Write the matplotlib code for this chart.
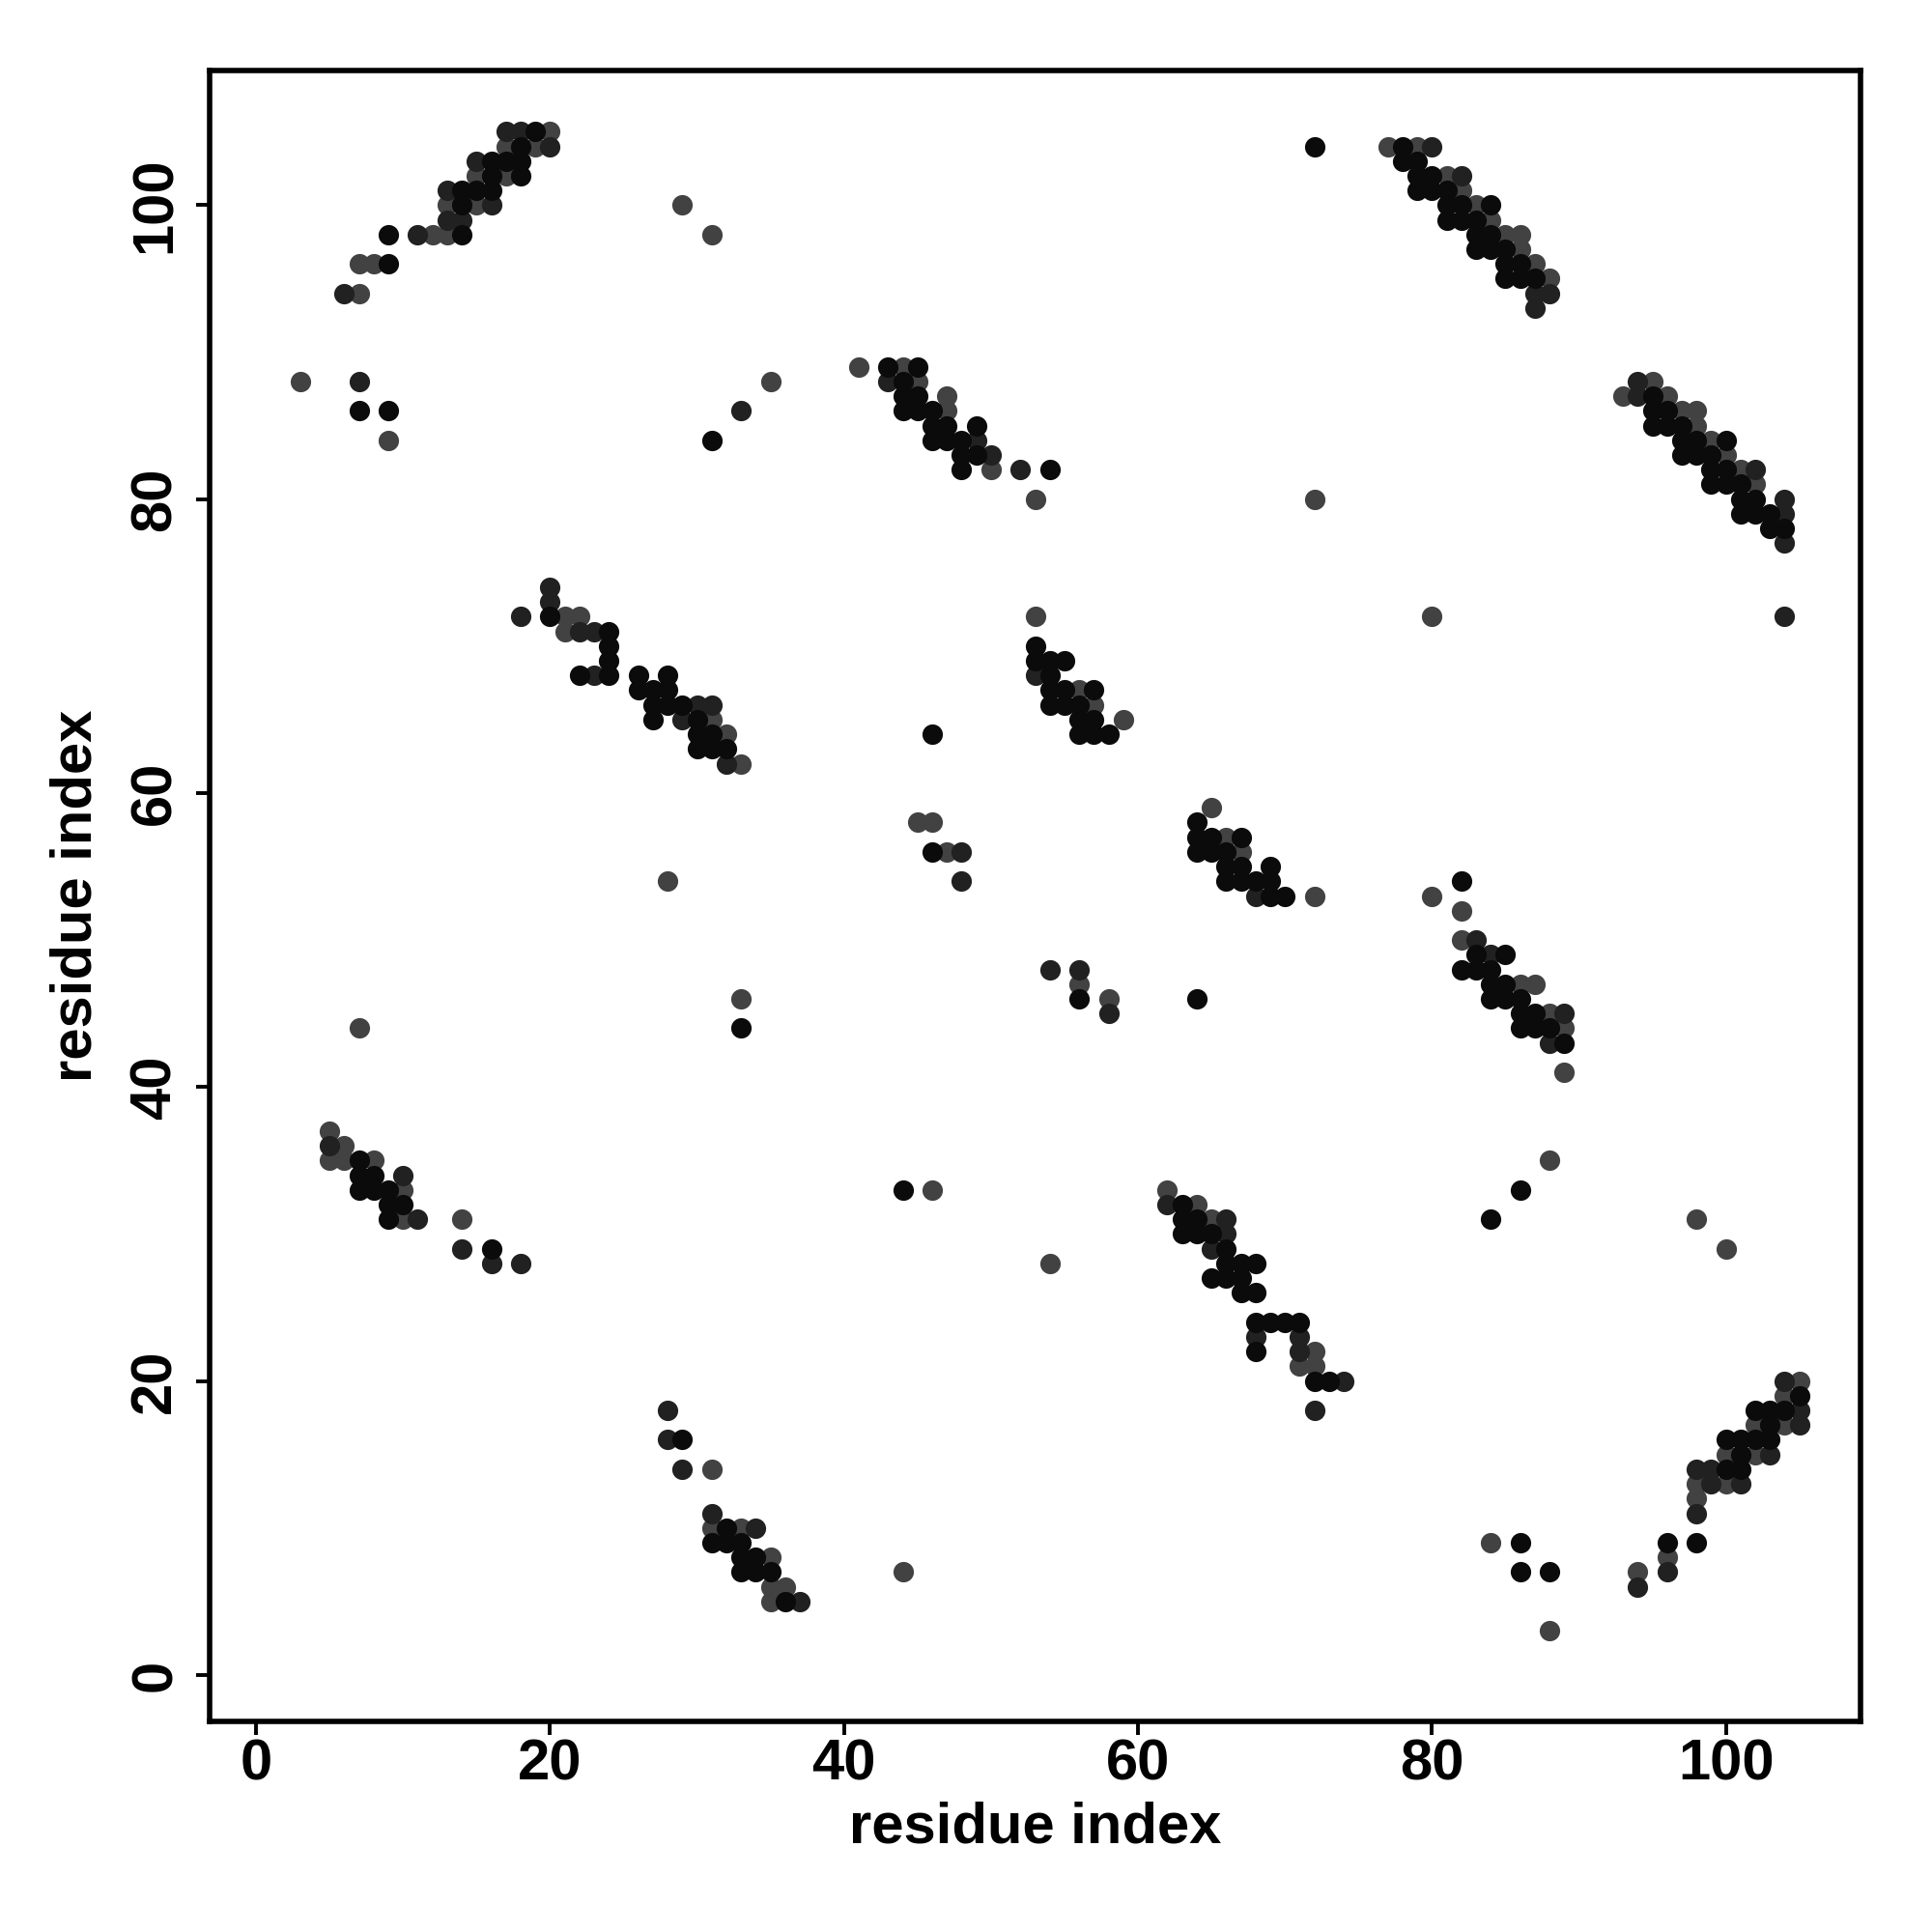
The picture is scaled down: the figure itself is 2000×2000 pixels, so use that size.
import matplotlib
matplotlib.use("Agg")
import matplotlib.pyplot as plt

plt.rcParams['font.family'] = ['Liberation Sans', 'DejaVu Sans']
plt.rcParams['font.weight'] = 'bold'

# contact points, split by shade (black / dark / grey)
black_x = [19, 18, 16, 17, 18, 16, 18, 14, 15, 16, 14, 9, 14, 9, 7, 9,
           43, 45, 44, 44, 45, 44, 45, 46, 46, 47, 49, 46, 47, 48, 48, 49, 48, 54,
           78, 78, 79, 79, 80, 79, 80, 81, 81, 82, 84, 81, 82, 83, 83, 84, 83, 84, 85, 85, 86, 85, 86, 87,
           95, 95, 96, 95, 96, 97, 97, 98, 100, 97, 98, 99, 99, 100, 99, 100, 101, 101, 102, 101, 102, 103, 103, 104,
           20, 24, 24, 24, 22, 24, 26, 28, 26, 27, 28, 27, 28, 29, 27, 30, 30, 31, 30, 31, 32,
           53, 53, 54, 55, 54, 54, 55, 57, 54, 55, 56, 56, 57, 56, 57, 58, 46, 46,
           64, 64, 65, 67, 64, 65, 66, 66, 67, 69, 66, 67, 68, 69, 69, 70,
           82, 83, 85, 82, 83, 84, 84, 85, 84, 85, 86, 86, 87, 86, 87, 88, 89,
           7, 7, 8, 7, 8, 9, 9, 10, 9, 16,
           63, 63, 64, 63, 64, 65, 66, 66, 67, 68, 65, 66, 67, 67, 68, 68, 69, 70, 71, 68, 72, 73,
           29, 32, 31, 32, 33, 33, 34, 33, 34, 35, 36,
           105, 102, 103, 104, 103, 100, 101, 102, 103, 101, 100, 101, 96, 98,
           72, 31, 33, 56, 64, 44, 86, 84, 86, 86, 88]
black_y = [105, 104, 103, 103, 103, 102, 102, 101, 101, 101, 100, 98, 98, 96, 86, 86,
           89, 89, 88, 87, 87, 86, 86, 86, 85, 85, 85, 84, 84, 84, 83, 83, 82, 82,
           104, 103, 103, 102, 102, 101, 101, 101, 100, 100, 100, 99, 99, 99, 98, 98, 97, 97, 97, 96, 96, 95, 95, 95,
           87, 86, 86, 85, 85, 85, 84, 84, 84, 83, 83, 83, 82, 82, 81, 81, 81, 80, 80, 79, 79, 79, 78, 78,
           72, 71, 70, 69, 68, 68, 68, 68, 67, 67, 67, 66, 66, 66, 65, 65, 64, 64, 63, 63, 63,
           70, 69, 69, 69, 68, 67, 67, 67, 66, 66, 66, 65, 65, 64, 64, 64, 64, 56,
           58, 57, 57, 57, 56, 56, 56, 55, 55, 55, 54, 54, 54, 54, 53, 53,
           54, 49, 49, 48, 48, 48, 47, 47, 46, 46, 46, 45, 45, 44, 44, 44, 43,
           35, 34, 34, 33, 33, 33, 32, 32, 31, 29,
           32, 31, 31, 30, 30, 30, 29, 28, 28, 28, 27, 27, 27, 26, 26, 24, 24, 24, 24, 22, 20, 20,
           16, 10, 9, 9, 9, 8, 8, 7, 7, 7, 5,
           19, 18, 18, 18, 17, 16, 16, 16, 16, 15, 14, 14, 9, 9,
           104, 84, 44, 46, 46, 33, 33, 31, 9, 7, 7]

dark_x = [17, 18, 20, 15, 13, 16, 13, 14, 11, 6, 7,
          43, 49, 50, 52,
          80, 82, 87, 88, 87,
          94, 94, 102, 104, 104, 104, 104,
          20, 20, 18, 22, 23, 23, 30, 31, 29, 32,
          53, 48, 48,
          68,
          83, 84, 89, 88,
          5, 10, 11, 14, 16, 18,
          62, 66, 66, 65, 68, 71, 71, 74, 72,
          28, 28, 29, 31, 34, 37,
          104, 105, 105, 103, 98, 99, 99, 101, 98, 96, 94,
          33, 54, 56, 58]
dark_y = [105, 105, 104, 103, 101, 100, 99, 99, 98, 94, 88,
          88, 84, 83, 82,
          104, 102, 94, 94, 93,
          88, 87, 82, 80, 79, 77, 72,
          74, 73, 72, 71, 71, 68, 66, 66, 65, 62,
          68, 56, 54,
          53,
          50, 49, 45, 43,
          36, 34, 31, 29, 28, 28,
          32, 31, 30, 29, 23, 23, 22, 20, 18,
          18, 16, 14, 11, 10, 5,
          20, 18, 17, 15, 14, 14, 13, 13, 11, 7, 6,
          86, 48, 48, 45]

grey_x = [20, 17, 19, 15, 17, 13, 15, 12, 13, 7, 8, 7, 3, 9,
          41, 44, 45, 47, 47, 50, 53,
          77, 79, 81, 82, 83, 84, 85, 86, 86, 87, 88,
          95, 93, 96, 97, 98, 98, 99, 100, 101, 102,
          21, 22, 21, 31, 32, 33,
          53, 56, 57, 59, 45, 46, 47,
          65, 66, 67, 72,
          80, 82, 82, 86, 87, 88, 89, 89,
          5, 6, 5, 6, 8, 10, 10, 14,
          62, 64, 65, 72, 71, 72,
          31, 31, 33, 35, 35, 36, 35,
          105, 104, 102, 104, 100, 102, 98, 100, 98, 96, 94,
          29, 31, 35, 72, 80, 28, 33, 7, 56, 58, 46, 54, 88, 98, 100, 44, 84, 88]
grey_y = [105, 104, 104, 102, 102, 100, 100, 98, 98, 96, 96, 94, 88, 84,
          89, 89, 88, 87, 86, 82, 80,
          104, 104, 102, 101, 100, 99, 98, 98, 97, 96, 95,
          88, 87, 87, 86, 86, 85, 84, 83, 82, 81,
          72, 72, 71, 65, 64, 62,
          72, 67, 66, 65, 58, 58, 56,
          59, 57, 56, 53,
          53, 52, 50, 47, 47, 45, 44, 41,
          37, 36, 35, 35, 35, 33, 31, 31,
          33, 32, 31, 22, 21, 21,
          14, 10, 10, 8, 6, 6, 5,
          20, 19, 17, 17, 15, 15, 13, 13, 12, 8, 7,
          100, 98, 88, 80, 72, 54, 46, 44, 47, 46, 33, 28, 35, 31, 29, 7, 9, 3]

ticks = [0, 20, 40, 60, 80, 100]

fig = plt.figure(figsize=(10, 10), dpi=200)
ax = fig.add_axes([0.1085, 0.109, 0.8545, 0.8545])

ax.scatter(grey_x, grey_y, s=58, color='#424242', linewidths=0)
ax.scatter(dark_x, dark_y, s=58, color='#212121', linewidths=0)
ax.scatter(black_x, black_y, s=58, color='#0b0b0b', linewidths=0)

ax.set_xlim(-3.16, 109.16)
ax.set_ylim(-3.16, 109.16)
ax.set_xticks(ticks)
ax.set_yticks(ticks)
ax.tick_params(axis='both', direction='out', length=5.2, width=1.4,
               labelsize=21.5, color='black')
ax.tick_params(axis='x', pad=1)
ax.tick_params(axis='y', pad=5)
for lab in ax.get_yticklabels():
    lab.set_rotation(90)
    lab.set_va('center')
for sp in ax.spines.values():
    sp.set_linewidth(2.0)

ax.set_xlabel('residue index', fontsize=21.5, fontweight='bold', va='center')
ax.set_ylabel('residue index', fontsize=21.5, fontweight='bold', va='center')
ax.xaxis.set_label_coords(0.5, -0.0644)
ax.yaxis.set_label_coords(-0.0807, 0.5)

fig.savefig('out.png', dpi=200)
